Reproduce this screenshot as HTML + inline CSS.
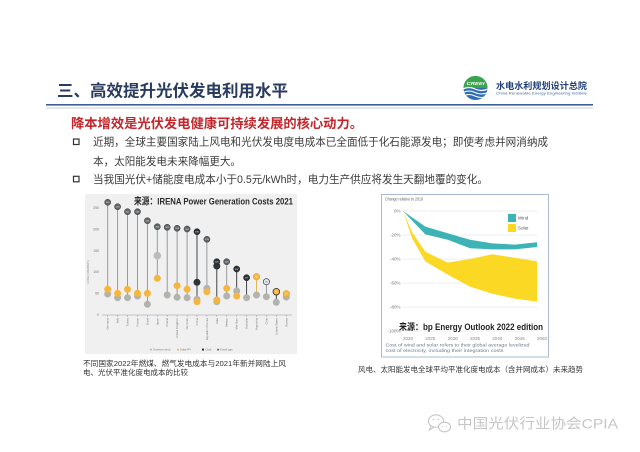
<!DOCTYPE html>
<html><head><meta charset="utf-8">
<style>
html,body{margin:0;padding:0;background:#fff;}
svg{display:block;}
text{font-family:"Liberation Sans","Noto Sans CJK SC",sans-serif;}
</style></head><body>
<svg width="640" height="452" viewBox="0 0 640 452" xmlns="http://www.w3.org/2000/svg">
<rect x="0" y="0" width="640" height="452" fill="#ffffff"/>

<!-- Header -->
<text x="57" y="96.5" font-size="16.5" font-weight="bold" fill="#2a3b60" textLength="231" lengthAdjust="spacingAndGlyphs">三、高效提升光伏发电利用水平</text>
<rect x="46" y="104" width="547" height="1.6" fill="#3d5e96"/>
<rect x="46" y="107.5" width="547" height="1" fill="#c3d0e2"/>

<!-- Logo -->
<defs><clipPath id="lc"><circle cx="475.5" cy="88" r="12"/></clipPath></defs>
<g clip-path="url(#lc)">
  <rect x="463" y="76" width="25" height="25" fill="#2f6db5"/>
  <rect x="463" y="76" width="25" height="12" fill="#3aa64a"/>
  <path d="M463 89 Q469 86 475 89 T488 89" stroke="#fff" stroke-width="1.2" fill="none"/>
  <path d="M463 92.5 Q469 89.5 475 92.5 T488 92.5" stroke="#fff" stroke-width="1.1" fill="none"/>
  <path d="M463 96 Q469 93 475 96 T488 96" stroke="#fff" stroke-width="1" fill="none"/>
</g>
<text x="466.5" y="85" font-size="4.2" font-style="italic" font-weight="bold" fill="#fff" textLength="18" lengthAdjust="spacingAndGlyphs">CREEI</text>
<text x="496" y="89" font-size="9" font-weight="bold" fill="#22417a" textLength="91" lengthAdjust="spacingAndGlyphs">水电水利规划设计总院</text>
<text x="496" y="94.5" font-size="3.3" fill="#4a6a99" textLength="91" lengthAdjust="spacingAndGlyphs">China Renewable Energy Engineering Institute</text>

<!-- Subtitle & bullets -->
<text x="71" y="128" font-size="13.3" font-weight="bold" fill="#c1272d" textLength="292" lengthAdjust="spacingAndGlyphs">降本增效是光伏发电健康可持续发展的核心动力。</text>
<rect x="73.5" y="139" width="5.5" height="5.5" fill="none" stroke="#333" stroke-width="1.2"/>
<text x="93" y="145.7" font-size="10.6" fill="#3a3a3a" textLength="455" lengthAdjust="spacingAndGlyphs">近期，全球主要国家陆上风电和光伏发电度电成本已全面低于化石能源发电；即使考虑并网消纳成</text>
<text x="93" y="165" font-size="10.6" fill="#3a3a3a" textLength="148" lengthAdjust="spacingAndGlyphs">本，太阳能发电未来降幅更大。</text>
<rect x="73.5" y="176.3" width="5.5" height="5.5" fill="none" stroke="#333" stroke-width="1.2"/>
<text x="93" y="183" font-size="10.6" fill="#3a3a3a" textLength="395" lengthAdjust="spacingAndGlyphs">当我国光伏+储能度电成本小于0.5元/kWh时，电力生产供应将发生天翻地覆的变化。</text>

<!-- LEFT CHART -->
<rect x="85" y="194" width="212" height="160" fill="#f0f0f0"/>
<text x="134" y="204.4" font-size="9.5" font-weight="bold" fill="#2a2a2a" textLength="159" lengthAdjust="spacingAndGlyphs">来源：IRENA Power Generation Costs 2021</text>

<g font-size="3.5" fill="#777" text-anchor="end">
  <text x="99" y="209.2">250</text>
  <text x="99" y="230.7">200</text>
  <text x="99" y="252.2">150</text>
  <text x="99" y="273.2">100</text>
  <text x="99" y="294.7">50</text>
  <text x="99" y="316.2">0</text>
</g>
<text transform="translate(89,272) rotate(-90)" font-size="2.8" fill="#888" text-anchor="middle">LCOE (USD/MWh)</text>
<line x1="102" y1="315" x2="292" y2="315" stroke="#999" stroke-width="0.6"/>
<g stroke="#999" stroke-width="0.5">
  <line x1="107.7" y1="315" x2="107.7" y2="317"/><line x1="117.6" y1="315" x2="117.6" y2="317"/>
  <line x1="127.5" y1="315" x2="127.5" y2="317"/><line x1="137.5" y1="315" x2="137.5" y2="317"/>
  <line x1="147.4" y1="315" x2="147.4" y2="317"/><line x1="157.3" y1="315" x2="157.3" y2="317"/>
  <line x1="167.2" y1="315" x2="167.2" y2="317"/><line x1="177.1" y1="315" x2="177.1" y2="317"/>
  <line x1="187.1" y1="315" x2="187.1" y2="317"/><line x1="197" y1="315" x2="197" y2="317"/>
  <line x1="206.9" y1="315" x2="206.9" y2="317"/><line x1="216.8" y1="315" x2="216.8" y2="317"/>
  <line x1="226.7" y1="315" x2="226.7" y2="317"/><line x1="236.7" y1="315" x2="236.7" y2="317"/>
  <line x1="246.6" y1="315" x2="246.6" y2="317"/><line x1="256.5" y1="315" x2="256.5" y2="317"/>
  <line x1="266.4" y1="315" x2="266.4" y2="317"/><line x1="276.3" y1="315" x2="276.3" y2="317"/>
  <line x1="286.3" y1="315" x2="286.3" y2="317"/>
</g>

<!-- lollipop lines -->
<g stroke-width="0.9">
  <line x1="107.7" y1="202.3" x2="107.7" y2="294" stroke="#8d9094"/>
  <line x1="117.6" y1="206.7" x2="117.6" y2="297.7" stroke="#8d9094"/>
  <line x1="127.5" y1="211.7" x2="127.5" y2="297.7" stroke="#8d9094"/>
  <line x1="137.5" y1="211.7" x2="137.5" y2="296" stroke="#8d9094"/>
  <line x1="147.4" y1="220.7" x2="147.4" y2="304.3" stroke="#8d9094"/>
  <line x1="157.3" y1="226.7" x2="157.3" y2="278.3" stroke="#8d9094"/>
  <line x1="167.2" y1="227.3" x2="167.2" y2="295" stroke="#8d9094"/>
  <line x1="177.1" y1="228.3" x2="177.1" y2="297.3" stroke="#8d9094"/>
  <line x1="187.1" y1="229" x2="187.1" y2="297.7" stroke="#8d9094"/>
  <line x1="197" y1="231.7" x2="197" y2="301.7" stroke="#2e3338"/>
  <line x1="206.9" y1="239.3" x2="206.9" y2="291.7" stroke="#8d9094"/>
  <line x1="216.8" y1="261.7" x2="216.8" y2="301.7" stroke="#2e3338"/>
  <line x1="226.7" y1="261.7" x2="226.7" y2="296" stroke="#8d9094"/>
  <line x1="236.7" y1="269" x2="236.7" y2="296" stroke="#2e3338"/>
  <line x1="246.6" y1="277.7" x2="246.6" y2="297.7" stroke="#2e3338"/>
  <line x1="256.5" y1="276.7" x2="256.5" y2="295" stroke="#e0b24a"/>
  <line x1="266.4" y1="281.7" x2="266.4" y2="296.7" stroke="#8d9094"/>
  <line x1="276.3" y1="291.7" x2="276.3" y2="302.3" stroke="#2e3338"/>
  <line x1="286.3" y1="293.7" x2="286.3" y2="297" stroke="#e0b24a"/>
</g>

<!-- data circles -->
<g>
  <circle cx="107.7" cy="294" r="3.5" fill="#b3b3ad"/><circle cx="107.7" cy="289.3" r="3.5" fill="#f5b53f"/>
  <circle cx="117.6" cy="297.7" r="3.5" fill="#b3b3ad"/><circle cx="117.6" cy="293.3" r="3.5" fill="#f5b53f"/>
  <circle cx="127.5" cy="297.7" r="3.5" fill="#b3b3ad"/><circle cx="127.5" cy="289.3" r="3.5" fill="#f5b53f"/>
  <circle cx="137.5" cy="296" r="3.5" fill="#b3b3ad"/><circle cx="137.5" cy="293.3" r="3.5" fill="#f5b53f"/>
  <circle cx="147.4" cy="304.3" r="3.5" fill="#b3b3ad"/><circle cx="147.4" cy="293.3" r="3.5" fill="#f5b53f"/>
  <circle cx="157.3" cy="255.7" r="3.8" fill="#bdbdb7"/><circle cx="157.3" cy="278.3" r="3.5" fill="#f5b53f"/>
  <circle cx="167.2" cy="295" r="3.5" fill="#b3b3ad"/>
  <circle cx="177.1" cy="297.3" r="3.5" fill="#b3b3ad"/><circle cx="177.1" cy="285.7" r="3.5" fill="#f5b53f"/>
  <circle cx="187.1" cy="297.7" r="3.5" fill="#b3b3ad"/><circle cx="187.1" cy="289.3" r="3.5" fill="#f5b53f"/>
  <circle cx="197" cy="299.3" r="3.5" fill="#b3b3ad"/><circle cx="197" cy="301.7" r="3.5" fill="#f5b53f"/><circle cx="197" cy="282.3" r="3.5" fill="#2e3338"/>
  <circle cx="206.9" cy="288.3" r="3.5" fill="#b3b3ad"/><circle cx="206.9" cy="291.7" r="3.5" fill="#f5b53f"/>
  <circle cx="216.8" cy="301.7" r="3.5" fill="#b3b3ad"/><circle cx="216.8" cy="300" r="3.5" fill="#f5b53f"/><circle cx="216.8" cy="266" r="3.5" fill="#2e3338"/>
  <circle cx="226.7" cy="296" r="3.5" fill="#b3b3ad"/><circle cx="226.7" cy="288.3" r="3.5" fill="#f5b53f"/>
  <circle cx="236.7" cy="291" r="3.5" fill="#b3b3ad"/><circle cx="236.7" cy="296" r="3.5" fill="#f5b53f"/>
  <circle cx="246.6" cy="297.7" r="3.5" fill="#b3b3ad"/>
  <circle cx="256.5" cy="295" r="3.5" fill="#b3b3ad"/>
  <circle cx="266.4" cy="296.7" r="3.5" fill="#b3b3ad"/>
  <circle cx="276.3" cy="302.3" r="3.5" fill="#b3b3ad"/>
  <circle cx="286.3" cy="297" r="3.5" fill="#b3b3ad"/>
</g>

<!-- top label circles -->
<g stroke-width="0.5">
  <circle cx="107.7" cy="202.3" r="3.1" fill="#5e6368" stroke="#444"/>
  <circle cx="117.6" cy="206.7" r="3.1" fill="#5e6368" stroke="#444"/>
  <circle cx="127.5" cy="211.7" r="3.1" fill="#5e6368" stroke="#444"/>
  <circle cx="137.5" cy="211.7" r="3.1" fill="#5e6368" stroke="#444"/>
  <circle cx="147.4" cy="220.7" r="3.1" fill="#5e6368" stroke="#444"/>
  <circle cx="157.3" cy="226.7" r="3.1" fill="#5e6368" stroke="#444"/>
  <circle cx="167.2" cy="227.3" r="3.1" fill="#5e6368" stroke="#444"/>
  <circle cx="177.1" cy="228.3" r="3.1" fill="#5e6368" stroke="#444"/>
  <circle cx="187.1" cy="229" r="3.1" fill="#5e6368" stroke="#444"/>
  <circle cx="197" cy="231.7" r="3.1" fill="#2e3338" stroke="#222"/>
  <circle cx="206.9" cy="239.3" r="3.1" fill="#5e6368" stroke="#444"/>
  <circle cx="216.8" cy="261.7" r="3.1" fill="#2e3338" stroke="#222"/>
  <circle cx="226.7" cy="261.7" r="3.1" fill="#5e6368" stroke="#444"/>
  <circle cx="236.7" cy="269" r="3.1" fill="#2e3338" stroke="#222"/>
  <circle cx="246.6" cy="277.7" r="3.1" fill="#2e3338" stroke="#222"/>
  <circle cx="256.5" cy="276.7" r="3.3" fill="#f5b53f" stroke="#d9a030"/>
  <circle cx="266.4" cy="281.7" r="3.1" fill="#e6e9ec" stroke="#4a5055" stroke-width="0.8"/>
  <circle cx="276.3" cy="291.7" r="3.3" fill="#f5b53f" stroke="#2e3338" stroke-width="0.8"/>
  <circle cx="286.3" cy="293.7" r="3.3" fill="#f5b53f" stroke="#d9a030"/>
</g>
<g font-size="2.2" fill="#fff" text-anchor="middle">
  <text x="107.7" y="203.1">263</text><text x="117.6" y="207.5">253</text><text x="127.5" y="212.5">241</text>
  <text x="137.5" y="212.5">241</text><text x="147.4" y="221.5">220</text><text x="157.3" y="227.5">206</text>
  <text x="167.2" y="228.1">205</text><text x="177.1" y="229.1">202</text><text x="187.1" y="229.8">201</text>
  <text x="197" y="232.5">195</text><text x="206.9" y="240.1">176</text><text x="216.8" y="262.5">125</text>
  <text x="226.7" y="262.5">125</text><text x="236.7" y="269.8">107</text><text x="246.6" y="278.5">87</text>
  <text x="256.5" y="277.5">90</text><text x="276.3" y="292.5">54</text><text x="286.3" y="294.5">50</text>
</g>
<text x="266.4" y="282.5" font-size="2.2" fill="#333" text-anchor="middle">78</text>

<!-- x labels -->
<g font-size="2.8" fill="#777" text-anchor="end">
  <text transform="translate(108.7,318) rotate(-90)">Germany</text>
  <text transform="translate(118.6,318) rotate(-90)">Italy</text>
  <text transform="translate(128.5,318) rotate(-90)">Turkey</text>
  <text transform="translate(138.5,318) rotate(-90)">France</text>
  <text transform="translate(148.4,318) rotate(-90)">Brazil</text>
  <text transform="translate(158.3,318) rotate(-90)">Japan</text>
  <text transform="translate(168.2,318) rotate(-90)">Poland</text>
  <text transform="translate(178.1,318) rotate(-90)">United Kingdom</text>
  <text transform="translate(188.1,318) rotate(-90)">Denmark</text>
  <text transform="translate(198,318) rotate(-90)">China</text>
  <text transform="translate(207.9,318) rotate(-90)">Republic of Korea</text>
  <text transform="translate(217.8,318) rotate(-90)">India</text>
  <text transform="translate(227.7,318) rotate(-90)">Mexico</text>
  <text transform="translate(237.7,318) rotate(-90)">Viet Nam</text>
  <text transform="translate(247.6,318) rotate(-90)">Australia</text>
  <text transform="translate(257.5,318) rotate(-90)">Argentina</text>
  <text transform="translate(267.4,318) rotate(-90)">Chile</text>
  <text transform="translate(277.3,318) rotate(-90)">United States</text>
  <text transform="translate(287.3,318) rotate(-90)">Russia</text>
</g>

<!-- legend -->
<g font-size="2.8" fill="#777">
  <circle cx="151" cy="349.6" r="1" fill="#b3b3ad"/><text x="153" y="350.6">Onshore wind</text>
  <circle cx="178" cy="349.6" r="1" fill="#f5b53f"/><text x="180" y="350.6">Solar PV</text>
  <rect x="202" y="348.6" width="2" height="2" fill="#2e3338"/><text x="205.5" y="350.6">Coal</text>
  <circle cx="218" cy="349.6" r="1" fill="#5e6368"/><text x="220" y="350.6">Fossil gas</text>
</g>

<!-- left caption -->
<text x="83" y="365.8" font-size="7.6" fill="#333" textLength="203" lengthAdjust="spacingAndGlyphs">不同国家2022年燃煤、燃气发电成本与2021年新并网陆上风</text>
<text x="83" y="374.8" font-size="7.6" fill="#333" textLength="105" lengthAdjust="spacingAndGlyphs">电、光伏平准化度电成本的比较</text>

<!-- RIGHT CHART -->
<rect x="381.5" y="194.5" width="167" height="162.5" fill="#fff" stroke="#a9bccf" stroke-width="1"/>
<text x="385" y="200.5" font-size="4.2" fill="#666" textLength="38" lengthAdjust="spacingAndGlyphs">Change relative to 2019</text>
<g stroke="#dedede" stroke-width="0.5">
  <line x1="403" y1="211" x2="537" y2="211"/>
  <line x1="403" y1="235" x2="537" y2="235"/>
  <line x1="403" y1="259" x2="537" y2="259"/>
  <line x1="403" y1="283" x2="537" y2="283"/>
  <line x1="403" y1="307" x2="537" y2="307"/>
  <line x1="403" y1="331" x2="537" y2="331"/>
</g>
<g font-size="4.5" fill="#777" text-anchor="end">
  <text x="400.5" y="212.6">0%</text>
  <text x="400.5" y="236.6">-20%</text>
  <text x="400.5" y="260.6">-40%</text>
  <text x="400.5" y="284.6">-60%</text>
  <text x="400.5" y="308.6">-80%</text>
  <text x="400.5" y="332.6">-100%</text>
</g>
<g font-size="4.5" fill="#888" text-anchor="middle">
  <text x="408" y="340.2">2020</text>
  <text x="430.3" y="340.2">2025</text>
  <text x="452.7" y="340.2">2030</text>
  <text x="475" y="340.2">2035</text>
  <text x="497.3" y="340.2">2040</text>
  <text x="519.7" y="340.2">2045</text>
  <text x="542" y="340.2">2050</text>
</g>
<!-- solar band -->
<polygon fill="#fbd824" points="403,211 412,232 425.3,251.8 447.7,262.6 470,259 492.3,254.2 514.7,257.8 537,261.4 537,301.6 514.7,298.6 492.3,293.8 470,286.6 447.7,274.6 425.3,261.4 412,238"/>
<!-- wind band -->
<polygon fill="#3db3b5" points="403,211 425.3,226.6 447.7,233.3 470,239.8 492.3,243.4 514.7,244.6 537,242.2 537,247 514.7,249.4 492.3,249.4 470,248.2 447.7,239.8 425.3,234.4"/>
<!-- legend -->
<rect x="508" y="214" width="8" height="8" fill="#3db3b5"/>
<text x="518" y="219.6" font-size="4.5" fill="#555">Wind</text>
<rect x="508" y="224" width="8" height="8" fill="#fbd824"/>
<text x="518" y="229.6" font-size="4.5" fill="#555">Solar</text>

<text x="399" y="330.2" font-size="9" font-weight="bold" fill="#222" textLength="144" lengthAdjust="spacingAndGlyphs">来源：bp Energy Outlook 2022 edition</text>
<text x="385.5" y="346.5" font-size="4.2" fill="#6a7d92" textLength="144" lengthAdjust="spacingAndGlyphs">Cost of wind and solar refers to their global average levelized</text>
<text x="385.5" y="352" font-size="4.2" fill="#6a7d92" textLength="118" lengthAdjust="spacingAndGlyphs">cost of electricity, including their integration costs</text>

<!-- right caption -->
<text x="358" y="371.8" font-size="7.5" fill="#333" textLength="225" lengthAdjust="spacingAndGlyphs">风电、太阳能发电全球平均平准化度电成本（含并网成本）未来趋势</text>

<!-- watermark -->
<g stroke="#c6c6c6" stroke-width="1.1" fill="none">
  <ellipse cx="436" cy="421" rx="7.5" ry="6.2"/>
  <path d="M431 426 L429.5 430 L434 427.2"/>
  <ellipse cx="444.5" cy="427" rx="6" ry="4.8" fill="#fff"/>
</g>
<g fill="#c6c6c6">
  <circle cx="433.5" cy="419.5" r="0.8"/><circle cx="438.5" cy="419.5" r="0.8"/>
  <circle cx="442.5" cy="426.3" r="0.6"/><circle cx="446.5" cy="426.3" r="0.6"/>
</g>
<text x="457" y="428.3" font-size="14" fill="#c6c6c6" textLength="161" lengthAdjust="spacingAndGlyphs">中国光伏行业协会CPIA</text>
</svg>
</body></html>
